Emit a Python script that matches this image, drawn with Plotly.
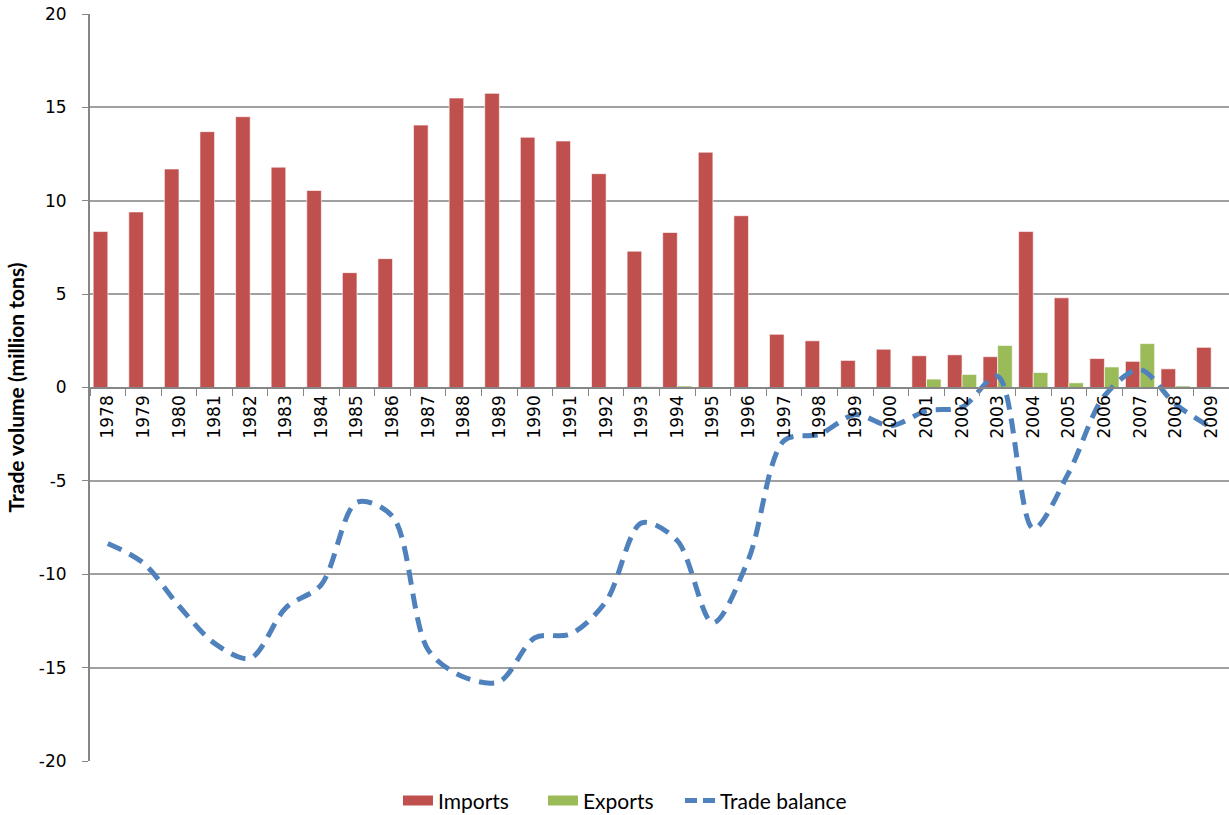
import plotly.graph_objects as go

years = [str(y) for y in range(1978, 2010)]
imports = [8.35, 9.4, 11.7, 13.7, 14.5, 11.8, 10.55, 6.15, 6.9, 14.05, 15.5, 15.75,
           13.4, 13.2, 11.45, 7.3, 8.3, 12.6, 9.2, 2.85, 2.5, 1.45, 2.05, 1.7,
           1.75, 1.65, 8.35, 4.8, 1.55, 1.4, 1.0, 2.15]
exports = [0, 0, 0, 0, 0, 0, 0, 0, 0, 0, 0, 0,
           0, 0, 0, 0.05, 0.08, 0, 0, 0, 0, 0, 0, 0.45,
           0.7, 2.25, 0.8, 0.25, 1.1, 2.35, 0.08, 0]
balance = [-8.35, -9.4, -11.7, -13.7, -14.5, -11.8, -10.55, -6.15, -6.9, -14.05, -15.5, -15.75,
           -13.4, -13.2, -11.45, -7.25, -8.2, -12.6, -9.2, -2.85, -2.5, -1.45, -2.05, -1.25,
           -1.05, 0.6, -7.55, -4.55, -0.45, 0.95, -0.9, -2.15]
y_ticks = [-20, -15, -10, -5, 0, 5, 10, 15, 20]
y_tick_text = ["-20", "-15", "-10", "-5", "0", "5", "10", "15", "20"]

RED, GREEN, BLUE = "#C0504D", "#9BBB59", "#4F81BD"
tick_font = dict(family="DejaVu Sans, Verdana, sans-serif", size=17, color="#000000")
humanist = "Lato, Liberation Sans, Arial, sans-serif"
legend_font = dict(family=humanist, size=21, color="#000000")

fig = go.Figure()
fig.add_trace(go.Bar(x=years, y=imports, name="Imports", showlegend=False,
                     marker=dict(color=RED, line=dict(color="rgba(255,255,255,0.6)", width=1))))
fig.add_trace(go.Bar(x=years, y=exports, name="Exports", showlegend=False,
                     marker=dict(color=GREEN, line=dict(color="rgba(255,255,255,0.6)", width=1))))
fig.add_trace(go.Scatter(x=years, y=balance, name="Trade balance", mode="lines", showlegend=False,
                         line=dict(color=BLUE, width=5, dash="15px,9px",
                                   shape="spline", smoothing=0.9)))
# legend-only entries (wide rectangle swatches like the original)
fig.add_trace(go.Scatter(x=[None], y=[None], name="Imports", mode="lines", legend="legend",
                         line=dict(color=RED, width=11)))
fig.add_trace(go.Scatter(x=[None], y=[None], name="Exports", mode="lines", legend="legend2",
                         line=dict(color=GREEN, width=11)))
fig.add_trace(go.Scatter(x=[None], y=[None], name="Trade balance", mode="lines", legend="legend3",
                         line=dict(color=BLUE, width=5, dash="12px,6px")))

leg_common = dict(orientation="h", xanchor="left", y=-0.0535, yanchor="middle",
                  font=legend_font, borderwidth=0, bgcolor="rgba(0,0,0,0)")

fig.update_layout(
    width=1229, height=815,
    margin=dict(l=90, r=0, t=14, b=54, autoexpand=False),
    paper_bgcolor="white", plot_bgcolor="white",
    barmode="group", bargap=0.18, bargroupgap=0,
    showlegend=True,
    legend=dict(x=0.2704, **leg_common),
    legend2=dict(x=0.3977, **leg_common),
    legend3=dict(x=0.518, **leg_common),
    xaxis=dict(type="category", anchor="free", position=0.5,
               showline=True, linecolor="#868686", linewidth=2,
               ticks="outside", ticklen=7, tickcolor="#868686", tickwidth=1,
               tickson="boundaries", tickangle=-90, tickfont=tick_font,
               showgrid=False, automargin=False, range=[-0.5, 31.5]),
    yaxis=dict(range=[-20, 20], tickmode="array", tickvals=y_ticks, ticktext=y_tick_text,
               showline=True, linecolor="#868686", linewidth=2,
               ticks="outside", ticklen=6, tickcolor="#868686", ticklabelstandoff=12,
               showgrid=True, gridcolor="#A0A0A0", gridwidth=1.5,
               zeroline=False, tickfont=tick_font, automargin=False,
               title=dict(text="<b>Trade volume (million tons)</b>",
                          font=dict(family=humanist, size=21, color="#000000"),
                          standoff=8)),
)

fig.write_html("out.html", config={"displayModeBar": False},
               post_script="document.body.style.margin='0';")
